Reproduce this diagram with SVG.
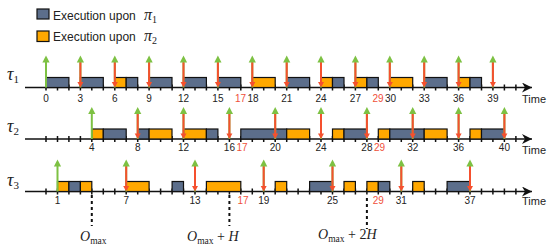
<svg xmlns="http://www.w3.org/2000/svg" xmlns:xlink="http://www.w3.org/1999/xlink" width="548" height="252" viewBox="0 0 548 252">
<style>
.b{fill:#5C6E8B;stroke:#111;stroke-width:1.2}
.o{fill:#FFA800;stroke:#111;stroke-width:1.2}
.ax{stroke:#111;stroke-width:1.6;fill:none}
.tk{stroke:#111;stroke-width:1.5;fill:none}
.n{font-family:"Liberation Sans",Arial,sans-serif;font-size:10px;fill:#222;text-anchor:middle}
.nr{font-family:"Liberation Sans",Arial,sans-serif;font-size:10px;fill:#F0503A;text-anchor:middle}
.tm{font-family:"Liberation Sans",Arial,sans-serif;font-size:11px;fill:#222}
.lg{font-family:"Liberation Sans",Arial,sans-serif;font-size:12px;fill:#222}
.m{font-family:"Liberation Serif","Times New Roman",serif;fill:#222}
.gl{stroke:#7DC143;stroke-width:2}
.rl{stroke:#F5502E;stroke-width:2}
.dash{stroke:#111;stroke-width:2;stroke-dasharray:3 3}
</style>
<defs>
<marker id="axh" viewBox="0 0 10 10" refX="10" refY="5" markerWidth="10" markerHeight="10" markerUnits="userSpaceOnUse" orient="auto"><path d="M0,0 L10,5 L0,10 L3,5z" fill="#111"/></marker>
<path id="ticks" class="tk" d="M46,-3v6M57.5,-3v6M68.9,-3v6M80.4,-3v6M91.8,-3v6M103.3,-3v6M114.8,-3v6M126.2,-3v6M137.7,-3v6M149.1,-3v6M160.6,-3v6M172.1,-3v6M183.5,-3v6M195,-3v6M206.4,-3v6M217.9,-3v6M229.4,-3v6M240.8,-3v6M252.3,-3v6M263.7,-3v6M275.2,-3v6M286.7,-3v6M298.1,-3v6M309.6,-3v6M321,-3v6M332.5,-3v6M344,-3v6M355.4,-3v6M366.9,-3v6M378.3,-3v6M389.8,-3v6M401.3,-3v6M412.7,-3v6M424.2,-3v6M435.6,-3v6M447.1,-3v6M458.6,-3v6M470,-3v6M481.5,-3v6M492.9,-3v6M504.4,-3v6M515.9,-3v6"/>
<g id="rel"><line x1="0" y1="0" x2="0" y2="-26" class="gl"/><path d="M-3.6,-25 L0,-32 L3.6,-25z" fill="#7DC143"/></g>
<g id="dl"><use xlink:href="#rel"/><line x1="0" y1="-25" x2="0" y2="-5" class="rl"/><path d="M-3,-5.5 L0,0 L3,-5.5z" fill="#F5502E"/></g>
</defs>

<g id="legend">
<rect x="37" y="9" width="12" height="10" class="b"/>
<text x="53" y="19.5" class="lg">Execution upon</text>
<text x="144" y="19.5" class="m" font-size="16" font-style="italic">π<tspan font-size="10" font-style="normal" dy="3">1</tspan></text>
<rect x="37" y="31" width="12" height="10.5" class="o"/>
<text x="53" y="41" class="lg">Execution upon</text>
<text x="144" y="41" class="m" font-size="16" font-style="italic">π<tspan font-size="10" font-style="normal" dy="3">2</tspan></text>
</g>

<g id="tau1">
<text x="7" y="80" class="m" font-size="18" font-style="italic">τ<tspan font-size="11" font-style="normal" dy="3">1</tspan></text>
<line x1="25" y1="87.5" x2="532" y2="87.5" class="ax" marker-end="url(#axh)"/>
<use xlink:href="#ticks" y="87.5"/>
<rect x="46" y="77.5" width="22.9" height="10" class="b"/>
<rect x="80.4" y="77.5" width="22.9" height="10" class="b"/>
<rect x="114.8" y="77.5" width="11.4" height="10" class="o"/>
<rect x="126.2" y="77.5" width="11.5" height="10" class="b"/>
<rect x="149.1" y="77.5" width="22.9" height="10" class="b"/>
<rect x="183.5" y="77.5" width="22.9" height="10" class="b"/>
<rect x="217.9" y="77.5" width="22.9" height="10" class="b"/>
<rect x="252.3" y="77.5" width="22.9" height="10" class="o"/>
<rect x="286.7" y="77.5" width="22.9" height="10" class="b"/>
<rect x="321" y="77.5" width="11.5" height="10" class="o"/>
<rect x="332.5" y="77.5" width="11.5" height="10" class="b"/>
<rect x="355.4" y="77.5" width="11.5" height="10" class="o"/>
<rect x="366.9" y="77.5" width="11.4" height="10" class="b"/>
<rect x="389.8" y="77.5" width="22.9" height="10" class="o"/>
<rect x="424.2" y="77.5" width="22.9" height="10" class="b"/>
<rect x="458.6" y="77.5" width="11.4" height="10" class="o"/>
<rect x="470" y="77.5" width="11.5" height="10" class="b"/>
<text y="101.5" class="n"><tspan x="46">0</tspan><tspan x="80.4">3</tspan><tspan x="114.8">6</tspan><tspan x="149.1">9</tspan><tspan x="183.5">12</tspan><tspan x="217.9">15</tspan><tspan x="253">18</tspan><tspan x="286.7">21</tspan><tspan x="321">24</tspan><tspan x="355.4">27</tspan><tspan x="390.5">30</tspan><tspan x="424.2">33</tspan><tspan x="458.6">36</tspan><tspan x="492.9">39</tspan></text>
<text y="101.5" class="nr"><tspan x="240.5">17</tspan><tspan x="378">29</tspan></text>
<text x="522" y="103" class="tm">Time</text>
</g>

<g id="tau2">
<text x="7" y="132" class="m" font-size="18" font-style="italic">τ<tspan font-size="11" font-style="normal" dy="3">2</tspan></text>
<line x1="25" y1="139" x2="532" y2="139" class="ax" marker-end="url(#axh)"/>
<use xlink:href="#ticks" y="139"/>
<rect x="91.8" y="129" width="11.5" height="10" class="o"/>
<rect x="103.3" y="129" width="22.9" height="10" class="b"/>
<rect x="137.7" y="129" width="11.4" height="10" class="b"/>
<rect x="149.1" y="129" width="22.9" height="10" class="o"/>
<rect x="183.5" y="129" width="22.9" height="10" class="o"/>
<rect x="206.4" y="129" width="11.5" height="10" class="b"/>
<rect x="240.8" y="129" width="34.4" height="10" class="b"/>
<rect x="275.2" y="129" width="11.5" height="10" class="b"/>
<rect x="286.7" y="129" width="22.9" height="10" class="o"/>
<rect x="332.5" y="129" width="11.5" height="10" class="o"/>
<rect x="344" y="129" width="22.9" height="10" class="b"/>
<rect x="378.3" y="129" width="11.5" height="10" class="o"/>
<rect x="389.8" y="129" width="22.9" height="10" class="b"/>
<rect x="412.7" y="129" width="11.5" height="10" class="b"/>
<rect x="424.2" y="129" width="22.9" height="10" class="o"/>
<rect x="470" y="129" width="11.5" height="10" class="o"/>
<rect x="481.5" y="129" width="22.9" height="10" class="b"/>
<text y="151" class="n"><tspan x="91.8">4</tspan><tspan x="137.7">8</tspan><tspan x="183.5">12</tspan><tspan x="229.4">16</tspan><tspan x="275.2">20</tspan><tspan x="321">24</tspan><tspan x="366.9">28</tspan><tspan x="412.7">32</tspan><tspan x="458.6">36</tspan><tspan x="504.4">40</tspan></text>
<text y="151" class="nr"><tspan x="242">17</tspan><tspan x="379.5">29</tspan></text>
<text x="522" y="154" class="tm">Time</text>
</g>

<g id="tau3">
<text x="7" y="186" class="m" font-size="18" font-style="italic">τ<tspan font-size="11" font-style="normal" dy="3">3</tspan></text>
<line x1="25" y1="191.5" x2="532" y2="191.5" class="ax" marker-end="url(#axh)"/>
<use xlink:href="#ticks" y="191.5"/>
<rect x="57.5" y="181.5" width="11.4" height="10" class="o"/>
<rect x="68.9" y="181.5" width="11.5" height="10" class="b"/>
<rect x="80.4" y="181.5" width="11.4" height="10" class="o"/>
<rect x="126.2" y="181.5" width="22.9" height="10" class="o"/>
<rect x="172.1" y="181.5" width="11.4" height="10" class="b"/>
<rect x="206.4" y="181.5" width="34.4" height="10" class="o"/>
<rect x="275.2" y="181.5" width="11.5" height="10" class="o"/>
<rect x="309.6" y="181.5" width="22.9" height="10" class="b"/>
<rect x="344" y="181.5" width="11.4" height="10" class="o"/>
<rect x="366.9" y="181.5" width="11.4" height="10" class="o"/>
<rect x="378.3" y="181.5" width="11.5" height="10" class="b"/>
<rect x="412.7" y="181.5" width="11.5" height="10" class="o"/>
<rect x="447.1" y="181.5" width="22.9" height="10" class="b"/>
<text y="203.5" class="n"><tspan x="57.5">1</tspan><tspan x="126.2">7</tspan><tspan x="195">13</tspan><tspan x="263.7">19</tspan><tspan x="332.5">25</tspan><tspan x="401.3">31</tspan><tspan x="470">37</tspan></text>
<text y="203.5" class="nr"><tspan x="243">17</tspan><tspan x="378.3">29</tspan></text>
<text x="522" y="205" class="tm">Time</text>
</g>

<g id="arrows">
<use xlink:href="#rel" x="46" y="87.5"/>
<use xlink:href="#dl" x="80.4" y="87.5"/>
<use xlink:href="#dl" x="114.8" y="87.5"/>
<use xlink:href="#dl" x="149.1" y="87.5"/>
<use xlink:href="#dl" x="183.5" y="87.5"/>
<use xlink:href="#dl" x="217.9" y="87.5"/>
<use xlink:href="#dl" x="252.3" y="87.5"/>
<use xlink:href="#dl" x="286.7" y="87.5"/>
<use xlink:href="#dl" x="321" y="87.5"/>
<use xlink:href="#dl" x="355.4" y="87.5"/>
<use xlink:href="#dl" x="389.8" y="87.5"/>
<use xlink:href="#dl" x="424.2" y="87.5"/>
<use xlink:href="#dl" x="458.6" y="87.5"/>
<use xlink:href="#dl" x="492.9" y="87.5"/>
<use xlink:href="#rel" x="91.8" y="139"/>
<use xlink:href="#dl" x="137.7" y="139"/>
<use xlink:href="#dl" x="183.5" y="139"/>
<use xlink:href="#dl" x="229.4" y="139"/>
<use xlink:href="#dl" x="275.2" y="139"/>
<use xlink:href="#dl" x="321" y="139"/>
<use xlink:href="#dl" x="366.9" y="139"/>
<use xlink:href="#dl" x="412.7" y="139"/>
<use xlink:href="#dl" x="458.6" y="139"/>
<use xlink:href="#dl" x="504.4" y="139"/>
<use xlink:href="#rel" x="57.5" y="191.5"/>
<use xlink:href="#dl" x="126.2" y="191.5"/>
<use xlink:href="#dl" x="195" y="191.5"/>
<use xlink:href="#dl" x="263.7" y="191.5"/>
<use xlink:href="#dl" x="332.5" y="191.5"/>
<use xlink:href="#dl" x="401.3" y="191.5"/>
<use xlink:href="#dl" x="470" y="191.5"/>
</g>

<g id="omax">
<line x1="91.8" y1="195" x2="91.8" y2="226" class="dash"/>
<line x1="229.4" y1="195" x2="229.4" y2="226" class="dash"/>
<line x1="366.9" y1="198" x2="366.9" y2="229" class="dash"/>
<text x="80" y="241" class="m" font-size="14"><tspan font-style="italic">O</tspan><tspan font-size="9.5" dy="3">max</tspan></text>
<text x="187" y="241" class="m" font-size="14"><tspan font-style="italic">O</tspan><tspan font-size="9.5" dy="3">max</tspan><tspan dy="-3"> + </tspan><tspan font-style="italic">H</tspan></text>
<text x="318" y="239" class="m" font-size="14"><tspan font-style="italic">O</tspan><tspan font-size="9.5" dy="3">max</tspan><tspan dy="-3"> + 2</tspan><tspan font-style="italic">H</tspan></text>
</g>
</svg>
